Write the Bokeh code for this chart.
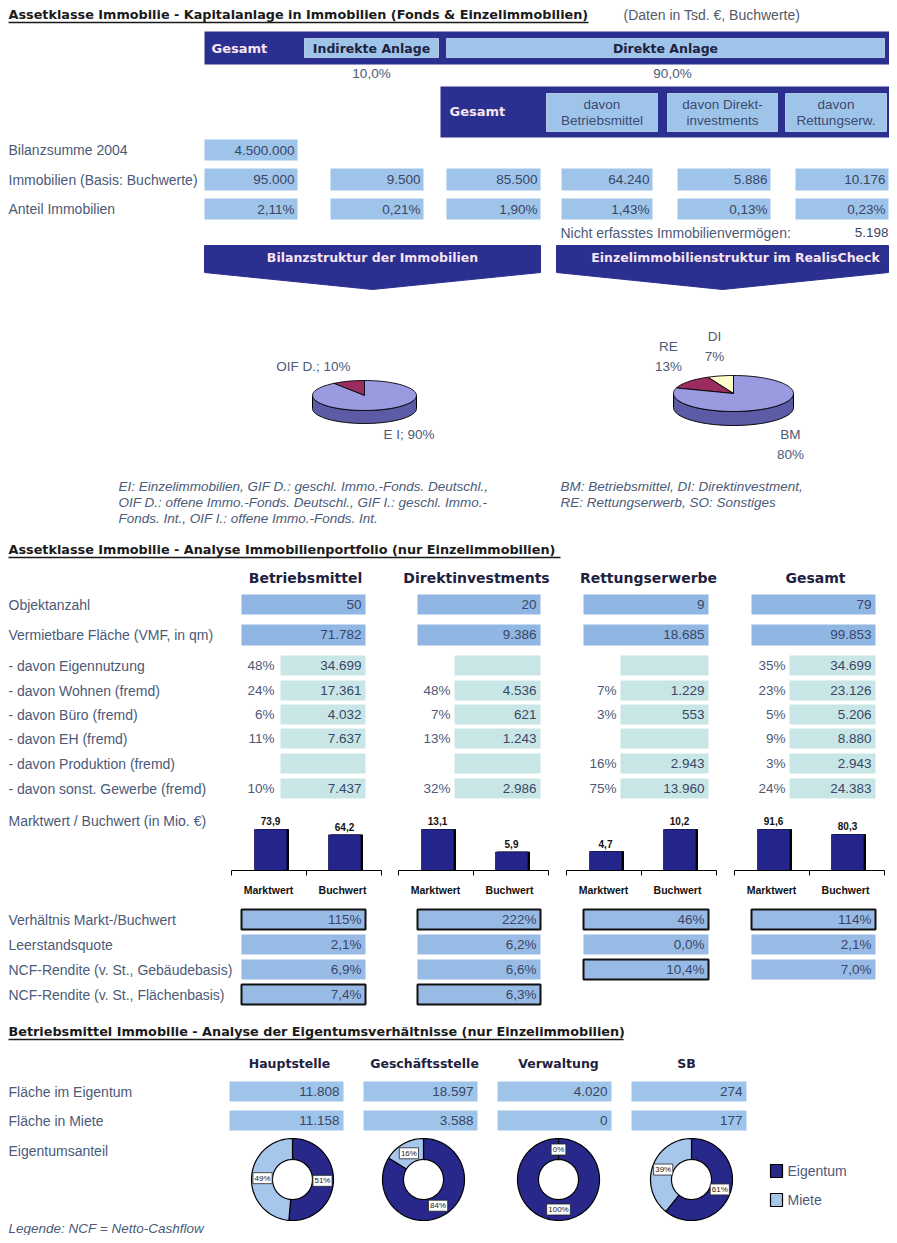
import math
from bokeh.plotting import figure
from bokeh.models import Range1d
from bokeh.core.properties import value
from bokeh.embed import file_html
from bokeh.resources import INLINE

# ---------------- data ----------------
anlage_labels = ["Indirekte Anlage", "Direkte Anlage"]
anlage_share = [10.0, 90.0]
direkt_cols = ["davon\nBetriebsmittel", "davon Direkt-\ninvestments", "davon\nRettungserw."]
row_labels_1 = ["Bilanzsumme 2004", "Immobilien (Basis: Buchwerte)", "Anteil Immobilien"]
bilanzsumme_2004 = 4500000
immobilien_buchwerte = [95000, 9500, 85500, 64240, 5886, 10176]
anteil_immobilien = [2.11, 0.21, 1.90, 1.43, 0.13, 0.23]
nicht_erfasst = 5198
banner_labels = ["Bilanzstruktur der Immobilien", "Einzelimmobilienstruktur im RealisCheck"]

pie1_labels = ["OIF D.", "E I"]
pie1_values = [10, 90]
pie2_labels = ["DI", "RE", "BM"]
pie2_values = [7, 13, 80]

portfolio_groups = ["Betriebsmittel", "Direktinvestments", "Rettungserwerbe", "Gesamt"]
objektanzahl = [50, 20, 9, 79]
vmf_qm = [71782, 9386, 18685, 99853]
nutzung_labels = ["- davon Eigennutzung", "- davon Wohnen (fremd)", "- davon Büro (fremd)",
                  "- davon EH (fremd)", "- davon Produktion (fremd)", "- davon sonst. Gewerbe (fremd)"]
nutzung_bm = [34699, 17361, 4032, 7637, None, 7437]
nutzung_di = [None, 4536, 621, 1243, None, 2986]
nutzung_re = [None, 1229, 553, None, 2943, 13960]
nutzung_ges = [34699, 23126, 5206, 8880, 2943, 24383]
pct_bm = [48, 24, 6, 11, None, 10]
pct_di = [None, 48, 7, 13, None, 32]
pct_re = [None, 7, 3, None, 16, 75]
pct_ges = [35, 23, 5, 9, 3, 24]

bar_categories = ["Marktwert", "Buchwert"]
marktwert = [73.9, 13.1, 4.7, 91.6]
buchwert = [64.2, 5.9, 10.2, 80.3]

kpi_labels = ["Verhältnis Markt-/Buchwert", "Leerstandsquote",
              "NCF-Rendite (v. St., Gebäudebasis)", "NCF-Rendite (v. St., Flächenbasis)"]
verhaeltnis = [115, 222, 46, 114]
leerstandsquote = [2.1, 6.2, 0.0, 2.1]
ncf_gebaeude = [6.9, 6.6, 10.4, 7.0]
ncf_flaeche = [7.4, 6.3, None, None]

standorte = ["Hauptstelle", "Geschäftsstelle", "Verwaltung", "SB"]
flaeche_eigentum = [11808, 18597, 4020, 274]
flaeche_miete = [11158, 3588, 0, 177]
donut_legend = ["Eigentum", "Miete"]

# ---------------- styles ----------------
NAVY = "#2b2f8f"
LIGHT = "#9fc4ea"
OBJ = "#90b6e4"
TEAL = "#c9e6e6"
ROWBOX = "#98bbe6"
LBL = "#4b5a78"
VAL = "#3a4666"
HDR = "#1e2240"
WTXT = "#f6e4f0"
SANS = "Liberation Sans"
BOLDF = "DejaVu Sans"
LS = 14      # label size
VS = 13.5    # value size


def de_int(v):
    return f"{v:,}".replace(",", ".")


def de_dec(v, d):
    return f"{v:.{d}f}".replace(".", ",")


W, H = 889, 1235
p = figure(width=W, height=H, x_range=Range1d(0, W), y_range=Range1d(H, 0),
           output_backend="svg", toolbar_location=None, min_border=0,
           x_axis_location=None, y_axis_location=None)
p.grid.visible = False
p.outline_line_color = None
p.background_fill_color = "white"


def box(x0, x1, y0, y1, fill, line=None, lw=1.0):
    p.quad(left=[x0], right=[x1], top=[y0], bottom=[y1], fill_color=fill,
           line_color=line, line_width=lw)


def T(x, y, s, size=LS, color=LBL, align="left", style="normal", font=SANS,
      baseline="middle", lh=1.2):
    p.text(x=[x], y=[y], text=[s], text_font=value(font), text_font_size=f"{size}px",
           text_color=color, text_align=align, text_baseline=baseline,
           text_font_style=style, text_line_height=lh)


def title(y, s, x_end):
    T(8, y, s, size=12.8, color="#1a1a1a", style="bold", font=BOLDF)
    p.segment(x0=[8], y0=[y + 8], x1=[x_end], y1=[y + 8], line_color="#1a1a1a", line_width=1.3)


# ================= Section 1 =================
title(14, "Assetklasse Immobilie - Kapitalanlage in Immobilien (Fonds & Einzelimmobilien)", 588)
T(623, 14, "(Daten in Tsd. €, Buchwerte)", size=14, color="#555a66")

box(204, 889, 31, 64, NAVY)
T(211, 48, "Gesamt", size=13, color=WTXT, style="bold", font=BOLDF)
head_boxes = [(304, 438), (446, 884)]
for (x0, x1), lab in zip(head_boxes, anlage_labels):
    box(x0, x1, 38, 57, LIGHT, line="#c8d8f0", lw=0.8)
    T((x0 + x1) / 2, 48, lab, size=12.5, color=HDR, align="center", style="bold", font=BOLDF)
share_x = [371, 672]
for sx, sh in zip(share_x, anlage_share):
    T(sx, 73, de_dec(sh, 1) + "%", size=VS, align="center")

box(440, 889, 86, 137, NAVY)
T(449, 111, "Gesamt", size=13, color=WTXT, style="bold", font=BOLDF)
sub_boxes = [(546, 657), (667, 777), (785, 886)]
for (x0, x1), lab in zip(sub_boxes, direkt_cols):
    box(x0, x1, 93, 131, LIGHT, line="#c8d8f0", lw=0.8)
    T((x0 + x1) / 2, 112, lab, size=13.5, color="#3a4a70", align="center", lh=1.1)

cols1 = [(204, 297), (330, 423), (446, 540), (561, 652), (677, 770), (795, 888)]
rows1 = [(139, 160), (168, 190), (198, 219)]
for lab, (y0, y1) in zip(row_labels_1, rows1):
    T(8, (y0 + y1) / 2, lab)
box(cols1[0][0], cols1[0][1], rows1[0][0], rows1[0][1], LIGHT)
T(cols1[0][1] - 3, sum(rows1[0]) / 2, de_int(bilanzsumme_2004), size=VS, color=VAL, align="right")
for (x0, x1), v, a in zip(cols1, immobilien_buchwerte, anteil_immobilien):
    box(x0, x1, rows1[1][0], rows1[1][1], LIGHT)
    T(x1 - 3, sum(rows1[1]) / 2, de_int(v), size=VS, color=VAL, align="right")
    box(x0, x1, rows1[2][0], rows1[2][1], LIGHT)
    T(x1 - 3, sum(rows1[2]) / 2, de_dec(a, 2) + "%", size=VS, color=VAL, align="right")
T(560, 232, "Nicht erfasstes Immobilienvermögen:")
T(888, 232, de_int(nicht_erfasst), size=VS, color=VAL, align="right")

# banners
for (x0, x1), lab, tx in zip([(204, 540), (556, 888)], banner_labels, [372, 735]):
    xm = (x0 + x1) / 2
    p.patch(x=[x0, x1, x1, xm, x0], y=[245, 245, 272, 289, 272],
            fill_color=NAVY, line_color=NAVY)
    T(tx, 257, lab, size=12.5, color=WTXT, align="center", style="bold", font=BOLDF)

# 3D pies
PIE_TOP = "#9a9ae0"
PIE_SIDE = "#5c5ca6"
PIE_RED = "#9b2c5f"
PIE_CREAM = "#ffffcc"


def pie3d(cx, cy, rx, ry, depth, vals, colors):
    n = 80
    angs = [math.pi + math.pi * i / n for i in range(n + 1)]
    tx = [cx + rx * math.cos(a) for a in angs]
    ty = [cy - ry * math.sin(a) for a in angs]
    xs = tx + tx[::-1]
    ys = ty + [y + depth for y in ty[::-1]]
    p.patch(x=xs, y=ys, fill_color=PIE_SIDE, line_color="black", line_width=1)
    tot = float(sum(vals))
    a = math.pi / 2
    for v, c in zip(vals, colors):
        a1 = a + 2 * math.pi * v / tot
        m = max(3, int(120 * v / tot))
        arc = [a + (a1 - a) * i / m for i in range(m + 1)]
        px = [cx] + [cx + rx * math.cos(t) for t in arc]
        py = [cy] + [cy - ry * math.sin(t) for t in arc]
        p.patch(x=px, y=py, fill_color=c, line_color="black", line_width=0.9)
        a = a1


pie3d(364, 395, 52, 15, 13, pie1_values, [PIE_RED, PIE_TOP])
pie3d(733, 393, 60, 18, 14, pie2_values, [PIE_CREAM, PIE_RED, PIE_TOP])

T(350, 366, f"{pie1_labels[0]}; {pie1_values[0]}%", size=13.5, align="right")
T(383, 434, f"{pie1_labels[1]}; {pie1_values[1]}%", size=13.5)
pie2_label_pos = [(714, 346), (668, 356), (790, 444)]
for (lx, ly), lab, v in zip(pie2_label_pos, pie2_labels, pie2_values):
    T(lx, ly, f"{lab}\n{v}%", size=13.5, align="center", lh=1.3)

cap_left = ["EI: Einzelimmobilien, GIF D.: geschl. Immo.-Fonds. Deutschl.,",
            "OIF D.: offene Immo.-Fonds. Deutschl., GIF I.: geschl. Immo.-",
            "Fonds. Int., OIF I.: offene Immo.-Fonds. Int."]
cap_right = ["BM: Betriebsmittel, DI: Direktinvestment,",
             "RE: Rettungserwerb, SO: Sonstiges"]
for i, s in enumerate(cap_left):
    T(118, 486 + 16 * i, s, size=13.5, style="italic")
for i, s in enumerate(cap_right):
    T(560, 486 + 16 * i, s, size=13.5, style="italic")

# ================= Section 2 =================
title(549, "Assetklasse Immobilie - Analyse Immobilienportfolio (nur Einzelimmobilien)", 560)

big_cols = [(241, 365), (417, 540), (583, 708), (751, 875)]
teal_cols = [(280, 365), (454, 540), (620, 708), (789, 875)]
pct_x = [274, 450, 616, 785]
head_x = [305, 476, 648, 815]
for hx, g in zip(head_x, portfolio_groups):
    T(hx, 577, g, size=14, color=HDR, align="center", style="bold", font=BOLDF)

T(8, 604, "Objektanzahl")
T(8, 634, "Vermietbare Fläche (VMF, in qm)")
for (x0, x1), o, v in zip(big_cols, objektanzahl, vmf_qm):
    box(x0, x1, 594, 614, OBJ)
    T(x1 - 4, 604, de_int(o), size=VS, color=VAL, align="right")
    box(x0, x1, 624, 645, OBJ)
    T(x1 - 4, 634, de_int(v), size=VS, color=VAL, align="right")

sub_y = [665, 690, 714, 738, 763, 788]
nutz = [nutzung_bm, nutzung_di, nutzung_re, nutzung_ges]
pcts = [pct_bm, pct_di, pct_re, pct_ges]
for lab, y in zip(nutzung_labels, sub_y):
    T(8, y, lab)
for gi in range(4):
    x0, x1 = teal_cols[gi]
    for ri, y in enumerate(sub_y):
        box(x0, x1, y - 10, y + 10, TEAL)
        v = nutz[gi][ri]
        if v is not None:
            T(x1 - 4, y, de_int(v), size=VS, color=VAL, align="right")
        pc = pcts[gi][ri]
        if pc is not None:
            T(pct_x[gi], y, f"{pc}%", size=VS, color=LBL, align="right")

# bar charts: one value axis per group (own range, like separate small charts)
T(8, 820, "Marktwert / Buchwert (in Mio. €)")
BASE = 870
BAR_H = 41
group_x0 = [231, 398, 566, 734]
ranges = {}
for gi, (m, b) in enumerate(zip(marktwert, buchwert)):
    vmax = max(m, b)
    start = -(H - BASE) * vmax / BAR_H
    ranges[f"g{gi}"] = Range1d(start=start, end=start + vmax * H / BAR_H)
p.extra_y_ranges = ranges
for gi, (m, b) in enumerate(zip(marktwert, buchwert)):
    g0 = group_x0[gi]
    centers = [g0 + 39, g0 + 113]
    vals = [m, b]
    vmax = max(vals)
    rn = f"g{gi}"
    p.vbar(x=[c + 2 for c in centers], width=32, top=vals, bottom=0, y_range_name=rn,
           fill_color="black", line_color="black")
    p.vbar(x=centers, width=32, top=vals, bottom=0, y_range_name=rn,
           fill_color="#23258c", line_color="#1a1a60", line_width=0.8)
    p.text(x=centers, y=[v + vmax * 0.1 for v in vals], text=[de_dec(v, 1) for v in vals],
           y_range_name=rn, text_font=value(SANS), text_font_style="bold",
           text_font_size="10px", text_color="#111", text_align="center",
           text_baseline="bottom")
    p.segment(x0=[g0], y0=[BASE], x1=[g0 + 150], y1=[BASE], line_color="black", line_width=1)
    p.segment(x0=[g0, g0 + 75, g0 + 150], y0=[BASE] * 3, x1=[g0, g0 + 75, g0 + 150],
              y1=[BASE + 5] * 3, line_color="black", line_width=1)
    for c, cat in zip(centers, bar_categories):
        T(c - 2, 889, cat, size=10.5, color="#111", align="center", style="bold", font=SANS)

kpi_y = [919, 944, 969, 994]
kpi_border = [[True] * 4, [False] * 4, [False, False, True, False], [True, True, False, False]]
kpi_vals = [[f"{v}%" for v in verhaeltnis],
            [de_dec(v, 1) + "%" for v in leerstandsquote],
            [de_dec(v, 1) + "%" for v in ncf_gebaeude],
            [None if v is None else de_dec(v, 1) + "%" for v in ncf_flaeche]]
for ri, (lab, y) in enumerate(zip(kpi_labels, kpi_y)):
    T(8, y, lab)
    for gi, (x0, x1) in enumerate(big_cols):
        s = kpi_vals[ri][gi]
        if s is None:
            continue
        if kpi_border[ri][gi]:
            box(x0, x1, y - 10, y + 10, ROWBOX, line="#111", lw=2)
        else:
            box(x0, x1, y - 10, y + 10, ROWBOX)
        T(x1 - 4, y, s, size=VS, color=VAL, align="right")

# ================= Section 3 =================
title(1031, "Betriebsmittel Immobilie - Analyse der Eigentumsverhältnisse (nur Einzelimmobilien)", 623)
s3_cols = [(229, 343), (363, 477), (497, 611), (631, 746)]
s3_head = [289, 424, 558, 686]
for hx, s in zip(s3_head, standorte):
    T(hx, 1063, s, size=12.5, color=HDR, align="center", style="bold", font=BOLDF)
T(8, 1091, "Fläche im Eigentum")
T(8, 1120, "Fläche in Miete")
T(8, 1150, "Eigentumsanteil")
for (x0, x1), e, m in zip(s3_cols, flaeche_eigentum, flaeche_miete):
    box(x0, x1, 1081, 1101, LIGHT)
    T(x1 - 4, 1091, de_int(e), size=VS, color=VAL, align="right")
    box(x0, x1, 1110, 1130, LIGHT)
    T(x1 - 4, 1120, de_int(m), size=VS, color=VAL, align="right")

DON_DARK = "#27288a"
DON_LIGHT = "#a6c6ec"
donut_cx = [292, 423, 558, 691]
DCY = 1179
R_OUT, R_IN = 41, 20


def ring_slice(cx, cy, a0, a1, fill):
    m = max(4, int(abs(a1 - a0) / (2 * math.pi) * 120))
    arc = [a0 + (a1 - a0) * i / m for i in range(m + 1)]
    xs = [cx + R_OUT * math.cos(t) for t in arc] + [cx + R_IN * math.cos(t) for t in arc[::-1]]
    ys = [cy - R_OUT * math.sin(t) for t in arc] + [cy - R_IN * math.sin(t) for t in arc[::-1]]
    p.patch(x=xs, y=ys, fill_color=fill, line_color="black", line_width=1.2)


for cx, e, m in zip(donut_cx, flaeche_eigentum, flaeche_miete):
    shares = [e / (e + m), m / (e + m)]
    a = math.pi / 2
    labs = []
    for f, col in zip(shares, [DON_DARK, DON_LIGHT]):
        a1 = a - 2 * math.pi * f
        if f > 0:
            ring_slice(cx, DCY, a, a1, col)
        mid = (a + a1) / 2
        labs.append((cx + 30 * math.cos(mid), DCY - 30 * math.sin(mid), f"{round(f * 100)}%"))
        a = a1
    for lx, ly, s in labs:
        wdt = 6 + 4.4 * len(s)
        box(lx - wdt / 2, lx + wdt / 2, ly - 5.5, ly + 5.5, "white", line="#222", lw=0.8)
        T(lx, ly, s, size=8, color="#222", align="center", font=SANS)

for (y0, y1), lab, col in zip([(1164, 1177), (1193, 1206)], donut_legend, [DON_DARK, DON_LIGHT]):
    box(770, 782, y0, y1, col, line="black", lw=1.2)
    T(787, (y0 + y1) / 2, lab)

T(8, 1228, "Legende: NCF = Netto-Cashflow", size=13.5, style="italic")

open("out.html", "w").write(file_html(p, INLINE))
